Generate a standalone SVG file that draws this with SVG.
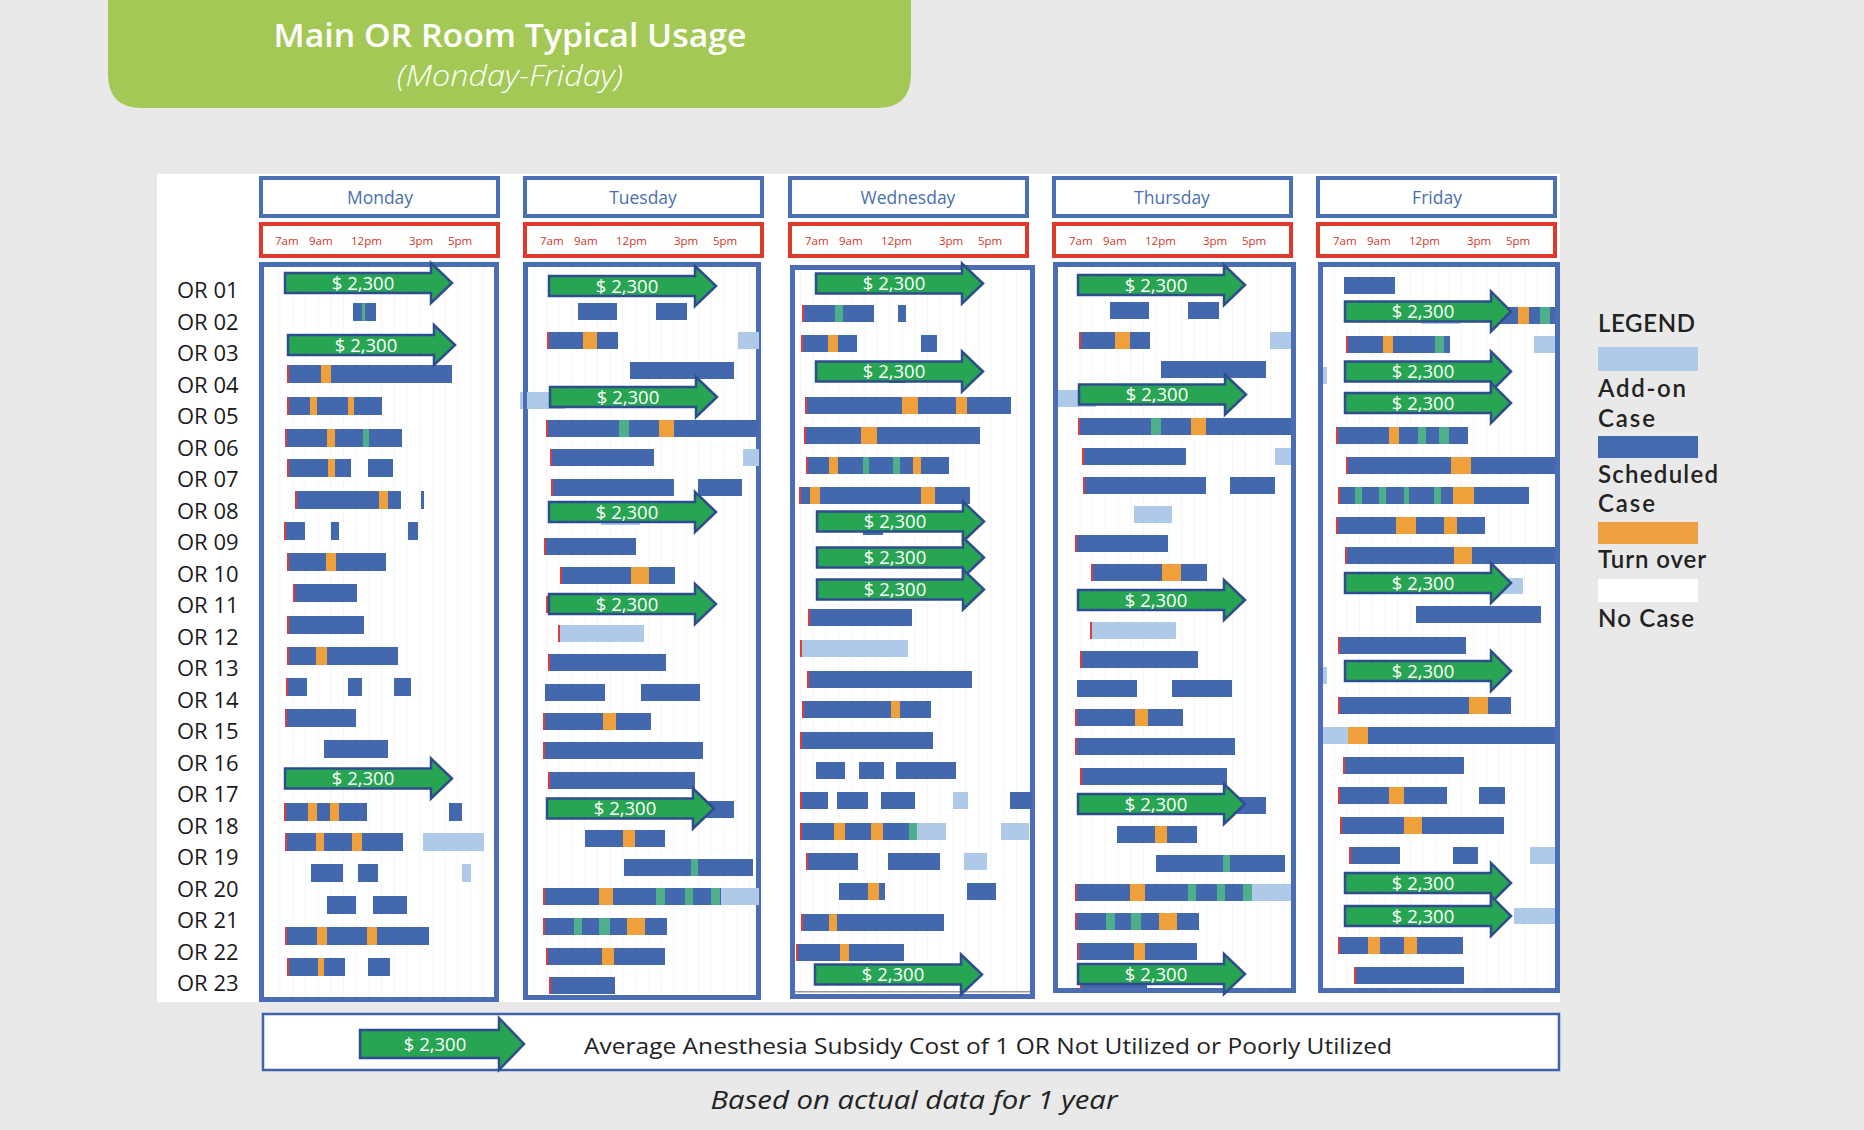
<svg xmlns="http://www.w3.org/2000/svg" width="1864" height="1130" viewBox="0 0 1864 1130">
<style>
.s{fill:#4468AE}.a{fill:#AFC9E8}.t{fill:#EFA03B}.g{fill:#4DB08A}.r{fill:#E23B3B}
.arw polygon{fill:#27A552;stroke:#2F4D8E;stroke-width:2.5;stroke-linejoin:miter}
.arw text{font-family:"Open Sans","Liberation Sans",sans-serif;font-size:18.5px;fill:#fff;text-anchor:middle}
.day{fill:#fff;stroke:#4A6FB5;stroke-width:4}
.dayt{font-family:"Open Sans","Liberation Sans",sans-serif;font-size:17.5px;fill:#4A6FB0;text-anchor:middle}
.tbox{fill:#fff;stroke:#E0392B;stroke-width:4}
.tt{font-family:"Open Sans","Liberation Sans",sans-serif;font-size:11.5px;fill:#D0352A}
.panel{fill:url(#grid);stroke:#4A6DB3;stroke-width:5}
.lbl{font-family:"Open Sans","Liberation Sans",sans-serif;font-size:22px;fill:#1a1a1a}
.leg{font-family:Lato,"Open Sans",sans-serif;font-size:24px;font-weight:600;fill:#222}
</style>
<defs>
<pattern id="grid" patternUnits="userSpaceOnUse" width="12.7" height="20" x="0" y="0">
<rect width="12.7" height="20" fill="#fff"/>
<rect x="0" y="0" width="1" height="20" fill="#f6f6f6"/>
</pattern>
</defs>
<rect width="1864" height="1130" fill="#E9E9E9"/>

<g id="title">
<path d="M108 0 H911 V74 Q911 108 877 108 H142 Q108 108 108 74 Z" fill="#A4C855"/>
<text x="510" y="47" font-family="Open Sans, Liberation Sans, sans-serif" font-size="32" font-weight="600" fill="#fff" text-anchor="middle" textLength="473" lengthAdjust="spacingAndGlyphs">Main OR Room Typical Usage</text>
<text x="510" y="86" font-family="Open Sans, Liberation Sans, sans-serif" font-size="29" font-weight="300" font-style="italic" fill="#fff" text-anchor="middle" textLength="226" lengthAdjust="spacingAndGlyphs">(Monday-Friday)</text>
</g>

<rect id="chart-bg" x="157" y="174" width="1403" height="828" fill="#fff"/>

<g id="row-labels">
<text class="lbl" x="177" y="298">OR 01</text>
<text class="lbl" x="177" y="329.5">OR 02</text>
<text class="lbl" x="177" y="361">OR 03</text>
<text class="lbl" x="177" y="392.5">OR 04</text>
<text class="lbl" x="177" y="424">OR 05</text>
<text class="lbl" x="177" y="455.5">OR 06</text>
<text class="lbl" x="177" y="487">OR 07</text>
<text class="lbl" x="177" y="518.5">OR 08</text>
<text class="lbl" x="177" y="550">OR 09</text>
<text class="lbl" x="177" y="581.5">OR 10</text>
<text class="lbl" x="177" y="613">OR 11</text>
<text class="lbl" x="177" y="644.5">OR 12</text>
<text class="lbl" x="177" y="676">OR 13</text>
<text class="lbl" x="177" y="707.5">OR 14</text>
<text class="lbl" x="177" y="739">OR 15</text>
<text class="lbl" x="177" y="770.5">OR 16</text>
<text class="lbl" x="177" y="802">OR 17</text>
<text class="lbl" x="177" y="833.5">OR 18</text>
<text class="lbl" x="177" y="865">OR 19</text>
<text class="lbl" x="177" y="896.5">OR 20</text>
<text class="lbl" x="177" y="928">OR 21</text>
<text class="lbl" x="177" y="959.5">OR 22</text>
<text class="lbl" x="177" y="991">OR 23</text>
</g>

<!-- MONDAY -->
<g id="monday">
<rect class="day" x="261" y="178" width="237" height="38"/>
<text class="dayt" x="380" y="204">Monday</text>
<rect class="tbox" x="261" y="224" width="237" height="32"/>
<text class="tt" x="275" y="245">7am</text><text class="tt" x="309" y="245">9am</text><text class="tt" x="351" y="245">12pm</text><text class="tt" x="409" y="245">3pm</text><text class="tt" x="448" y="245">5pm</text>
<rect class="panel" x="261.5" y="264.5" width="235" height="735"/>
<g>
<rect class="s" x="353" y="303" width="23" height="18"/><rect class="g" x="362" y="303" width="3" height="18"/>
<rect class="s" x="288" y="365" width="164" height="18"/><rect class="t" x="321" y="365" width="10" height="18"/><rect class="r" x="287" y="365" width="2" height="18"/>
<rect class="s" x="288" y="397" width="94" height="18"/><rect class="t" x="310" y="397" width="7" height="18"/><rect class="t" x="348" y="397" width="6" height="18"/><rect class="r" x="287" y="397" width="2" height="18"/>
<rect class="s" x="286" y="429" width="116" height="18"/><rect class="t" x="327" y="429" width="8" height="18"/><rect class="g" x="363" y="429" width="6" height="18"/><rect class="r" x="285" y="429" width="2" height="18"/>
<rect class="s" x="288" y="459" width="63" height="18"/><rect class="t" x="328" y="459" width="7" height="18"/><rect class="s" x="368" y="459" width="25" height="18"/><rect class="r" x="287" y="459" width="2" height="18"/>
<rect class="s" x="296" y="491" width="105" height="18"/><rect class="t" x="379" y="491" width="9" height="18"/><rect class="s" x="421" y="491" width="3" height="18"/><rect class="r" x="295" y="491" width="2" height="18"/>
<rect class="s" x="285" y="522" width="20" height="18"/><rect class="s" x="331" y="522" width="8" height="18"/><rect class="s" x="408" y="522" width="10" height="18"/><rect class="r" x="284" y="522" width="2" height="18"/>
<rect class="s" x="288" y="553" width="98" height="18"/><rect class="t" x="326" y="553" width="10" height="18"/><rect class="r" x="287" y="553" width="2" height="18"/>
<rect class="s" x="294" y="584" width="63" height="18"/><rect class="r" x="293" y="584" width="2" height="18"/>
<rect class="s" x="288" y="616" width="76" height="18"/><rect class="r" x="287" y="616" width="2" height="18"/>
<rect class="s" x="288" y="647" width="110" height="18"/><rect class="t" x="316" y="647" width="11" height="18"/><rect class="r" x="287" y="647" width="2" height="18"/>
<rect class="s" x="287" y="678" width="20" height="18"/><rect class="s" x="348" y="678" width="14" height="18"/><rect class="s" x="394" y="678" width="17" height="18"/><rect class="r" x="286" y="678" width="2" height="18"/>
<rect class="s" x="286" y="709" width="70" height="18"/><rect class="r" x="285" y="709" width="2" height="18"/>
<rect class="s" x="324" y="740" width="64" height="18"/>
<rect class="s" x="285" y="803" width="82" height="18"/><rect class="t" x="308" y="803" width="9" height="18"/><rect class="t" x="330" y="803" width="9" height="18"/><rect class="s" x="449" y="803" width="13" height="18"/><rect class="r" x="284" y="803" width="2" height="18"/>
<rect class="s" x="286" y="833" width="117" height="18"/><rect class="t" x="316" y="833" width="8" height="18"/><rect class="t" x="352" y="833" width="10" height="18"/><rect class="a" x="423" y="833" width="61" height="18"/><rect class="r" x="285" y="833" width="2" height="18"/>
<rect class="s" x="311" y="864" width="32" height="18"/><rect class="s" x="358" y="864" width="20" height="18"/><rect class="a" x="462" y="864" width="9" height="18"/>
<rect class="s" x="327" y="896" width="29" height="18"/><rect class="s" x="373" y="896" width="34" height="18"/>
<rect class="s" x="286" y="927" width="143" height="18"/><rect class="t" x="317" y="927" width="10" height="18"/><rect class="t" x="367" y="927" width="10" height="18"/><rect class="r" x="285" y="927" width="2" height="18"/>
<rect class="s" x="288" y="958" width="57" height="18"/><rect class="t" x="318" y="958" width="6" height="18"/><rect class="s" x="368" y="958" width="22" height="18"/><rect class="r" x="287" y="958" width="2" height="18"/>
</g>
<g class="arw" transform="translate(285,283)"><polygon points="0,-10 146,-10 146,-20 167,0 146,20 146,10 0,10"/><text x="78" y="6.5">$ 2,300</text></g>
<g class="arw" transform="translate(288,345)"><polygon points="0,-10 146,-10 146,-20 167,0 146,20 146,10 0,10"/><text x="78" y="6.5">$ 2,300</text></g>
<g class="arw" transform="translate(285,778.5)"><polygon points="0,-10 146,-10 146,-20 167,0 146,20 146,10 0,10"/><text x="78" y="6.5">$ 2,300</text></g>
</g>

<!-- TUESDAY -->
<g id="tuesday">
<rect class="day" x="525" y="178" width="237" height="38"/>
<text class="dayt" x="643" y="204">Tuesday</text>
<rect class="tbox" x="525" y="224" width="237" height="32"/>
<text class="tt" x="540" y="245">7am</text><text class="tt" x="574" y="245">9am</text><text class="tt" x="616" y="245">12pm</text><text class="tt" x="674" y="245">3pm</text><text class="tt" x="713" y="245">5pm</text>
<rect class="a" x="520" y="392" width="45" height="17"/>
<rect class="panel" x="525.5" y="264.5" width="233" height="733"/>
<g>
<rect class="a" x="527" y="392" width="38" height="17"/>
<rect class="s" x="578" y="303" width="39" height="17"/><rect class="s" x="656" y="303" width="31" height="17"/>
<rect class="s" x="548" y="332" width="70" height="17"/><rect class="t" x="583" y="332" width="14" height="17"/><rect class="a" x="738" y="332" width="21" height="17"/><rect class="r" x="547" y="332" width="2" height="17"/>
<rect class="s" x="630" y="362" width="104" height="17"/>
<rect class="s" x="547" y="420" width="212" height="17"/><rect class="g" x="619" y="420" width="10" height="17"/><rect class="t" x="659" y="420" width="15" height="17"/><rect class="r" x="546" y="420" width="2" height="17"/>
<rect class="s" x="551" y="449" width="103" height="17"/><rect class="a" x="743" y="449" width="16" height="17"/><rect class="r" x="550" y="449" width="2" height="17"/>
<rect class="s" x="552" y="479" width="122" height="17"/><rect class="s" x="698" y="479" width="44" height="17"/><rect class="r" x="551" y="479" width="2" height="17"/>
<rect class="a" x="601" y="508" width="39" height="17"/>
<rect class="s" x="545" y="538" width="91" height="17"/><rect class="r" x="544" y="538" width="2" height="17"/>
<rect class="s" x="561" y="567" width="114" height="17"/><rect class="t" x="631" y="567" width="18" height="17"/><rect class="r" x="560" y="567" width="2" height="17"/>
<rect class="s" x="547" y="596" width="60" height="17"/><rect class="r" x="546" y="596" width="2" height="17"/>
<rect class="a" x="559" y="625" width="85" height="17"/><rect class="r" x="558" y="625" width="2" height="17"/>
<rect class="s" x="549" y="654" width="117" height="17"/><rect class="r" x="548" y="654" width="2" height="17"/>
<rect class="s" x="545" y="684" width="60" height="17"/><rect class="s" x="641" y="684" width="59" height="17"/>
<rect class="s" x="544" y="713" width="107" height="17"/><rect class="t" x="603" y="713" width="13" height="17"/><rect class="r" x="543" y="713" width="2" height="17"/>
<rect class="s" x="544" y="742" width="159" height="17"/><rect class="r" x="543" y="742" width="2" height="17"/>
<rect class="s" x="549" y="772" width="146" height="17"/><rect class="r" x="548" y="772" width="2" height="17"/>
<rect class="s" x="546" y="801" width="188" height="17"/>
<rect class="s" x="585" y="830" width="80" height="17"/><rect class="t" x="623" y="830" width="12" height="17"/>
<rect class="s" x="624" y="859" width="129" height="17"/><rect class="g" x="691" y="859" width="7" height="17"/>
<rect class="s" x="544" y="888" width="177" height="17"/><rect class="a" x="721" y="888" width="38" height="17"/><rect class="t" x="599" y="888" width="14" height="17"/><rect class="g" x="656" y="888" width="9" height="17"/><rect class="g" x="685" y="888" width="8" height="17"/><rect class="g" x="711" y="888" width="9" height="17"/><rect class="r" x="543" y="888" width="2" height="17"/>
<rect class="s" x="544" y="918" width="123" height="17"/><rect class="g" x="574" y="918" width="8" height="17"/><rect class="g" x="599" y="918" width="11" height="17"/><rect class="t" x="627" y="918" width="18" height="17"/><rect class="r" x="543" y="918" width="2" height="17"/>
<rect class="s" x="547" y="948" width="118" height="17"/><rect class="t" x="602" y="948" width="12" height="17"/><rect class="r" x="546" y="948" width="2" height="17"/>
<rect class="s" x="550" y="977" width="65" height="17"/><rect class="r" x="549" y="977" width="2" height="17"/>
</g>
<g class="arw" transform="translate(549,286)"><polygon points="0,-10 146,-10 146,-20 167,0 146,20 146,10 0,10"/><text x="78" y="6.5">$ 2,300</text></g>
<g class="arw" transform="translate(550,397)"><polygon points="0,-10 146,-10 146,-20 167,0 146,20 146,10 0,10"/><text x="78" y="6.5">$ 2,300</text></g>
<g class="arw" transform="translate(549,512)"><polygon points="0,-10 146,-10 146,-20 167,0 146,20 146,10 0,10"/><text x="78" y="6.5">$ 2,300</text></g>
<g class="arw" transform="translate(549,604)"><polygon points="0,-10 146,-10 146,-20 167,0 146,20 146,10 0,10"/><text x="78" y="6.5">$ 2,300</text></g>
<g class="arw" transform="translate(547,808.5)"><polygon points="0,-10 146,-10 146,-20 167,0 146,20 146,10 0,10"/><text x="78" y="6.5">$ 2,300</text></g>
</g>

<!-- WEDNESDAY -->
<g id="wednesday">
<rect class="day" x="790" y="178" width="237" height="38"/>
<text class="dayt" x="908" y="204">Wednesday</text>
<rect class="tbox" x="790" y="224" width="237" height="32"/>
<text class="tt" x="805" y="245">7am</text><text class="tt" x="839" y="245">9am</text><text class="tt" x="881" y="245">12pm</text><text class="tt" x="939" y="245">3pm</text><text class="tt" x="978" y="245">5pm</text>
<rect class="panel" x="792.5" y="267.5" width="240" height="729"/>
<g>
<rect class="s" x="803" y="305" width="71" height="17"/><rect class="g" x="835" y="305" width="8" height="17"/><rect class="s" x="898" y="305" width="8" height="17"/><rect class="r" x="802" y="305" width="2" height="17"/>
<rect class="s" x="802" y="335" width="55" height="17"/><rect class="t" x="828" y="335" width="10" height="17"/><rect class="s" x="921" y="335" width="16" height="17"/><rect class="r" x="801" y="335" width="2" height="17"/>
<rect class="s" x="889" y="366" width="17" height="17"/>
<rect class="s" x="806" y="397" width="205" height="17"/><rect class="t" x="902" y="397" width="16" height="17"/><rect class="t" x="956" y="397" width="11" height="17"/><rect class="r" x="805" y="397" width="2" height="17"/>
<rect class="s" x="805" y="427" width="175" height="17"/><rect class="t" x="861" y="427" width="16" height="17"/><rect class="r" x="804" y="427" width="2" height="17"/>
<rect class="s" x="807" y="457" width="142" height="17"/><rect class="t" x="829" y="457" width="9" height="17"/><rect class="g" x="863" y="457" width="6" height="17"/><rect class="g" x="893" y="457" width="7" height="17"/><rect class="t" x="913" y="457" width="8" height="17"/><rect class="r" x="806" y="457" width="2" height="17"/>
<rect class="s" x="800" y="487" width="170" height="17"/><rect class="t" x="810" y="487" width="10" height="17"/><rect class="t" x="921" y="487" width="14" height="17"/><rect class="r" x="799" y="487" width="2" height="17"/>
<rect class="s" x="863" y="518" width="20" height="17"/>
<rect class="s" x="809" y="609" width="103" height="17"/><rect class="r" x="808" y="609" width="2" height="17"/>
<rect class="a" x="801" y="640" width="107" height="17"/><rect class="r" x="800" y="640" width="2" height="17"/>
<rect class="s" x="808" y="671" width="164" height="17"/><rect class="r" x="807" y="671" width="2" height="17"/>
<rect class="s" x="803" y="701" width="128" height="17"/><rect class="t" x="891" y="701" width="9" height="17"/><rect class="r" x="802" y="701" width="2" height="17"/>
<rect class="s" x="801" y="732" width="132" height="17"/><rect class="r" x="800" y="732" width="2" height="17"/>
<rect class="s" x="816" y="762" width="29" height="17"/><rect class="s" x="859" y="762" width="25" height="17"/><rect class="s" x="896" y="762" width="60" height="17"/>
<rect class="s" x="801" y="792" width="27" height="17"/><rect class="s" x="837" y="792" width="31" height="17"/><rect class="s" x="881" y="792" width="34" height="17"/><rect class="a" x="953" y="792" width="15" height="17"/><rect class="s" x="1010" y="792" width="22" height="17"/><rect class="r" x="800" y="792" width="2" height="17"/>
<rect class="s" x="801" y="823" width="108" height="17"/><rect class="t" x="834" y="823" width="11" height="17"/><rect class="t" x="871" y="823" width="12" height="17"/><rect class="g" x="909" y="823" width="8" height="17"/><rect class="a" x="917" y="823" width="29" height="17"/><rect class="a" x="1001" y="823" width="28" height="17"/><rect class="r" x="800" y="823" width="2" height="17"/>
<rect class="s" x="807" y="853" width="51" height="17"/><rect class="s" x="888" y="853" width="52" height="17"/><rect class="a" x="964" y="853" width="23" height="17"/><rect class="r" x="806" y="853" width="2" height="17"/>
<rect class="s" x="839" y="883" width="46" height="17"/><rect class="t" x="868" y="883" width="11" height="17"/><rect class="s" x="967" y="883" width="29" height="17"/>
<rect class="s" x="802" y="914" width="142" height="17"/><rect class="t" x="829" y="914" width="8" height="17"/><rect class="r" x="801" y="914" width="2" height="17"/>
<rect class="s" x="797" y="944" width="107" height="17"/><rect class="t" x="840" y="944" width="9" height="17"/><rect class="r" x="796" y="944" width="2" height="17"/>
<rect x="795" y="991" width="235" height="1.5" fill="#9a9a9a"/>
</g>
<g class="arw" transform="translate(816,283.5)"><polygon points="0,-10 146,-10 146,-20 167,0 146,20 146,10 0,10"/><text x="78" y="6.5">$ 2,300</text></g>
<g class="arw" transform="translate(816,371.5)"><polygon points="0,-10 146,-10 146,-20 167,0 146,20 146,10 0,10"/><text x="78" y="6.5">$ 2,300</text></g>
<g class="arw" transform="translate(817,521.5)"><polygon points="0,-10 146,-10 146,-20 167,0 146,20 146,10 0,10"/><text x="78" y="6.5">$ 2,300</text></g>
<g class="arw" transform="translate(817,557.5)"><polygon points="0,-10 146,-10 146,-20 167,0 146,20 146,10 0,10"/><text x="78" y="6.5">$ 2,300</text></g>
<g class="arw" transform="translate(817,589.5)"><polygon points="0,-10 146,-10 146,-20 167,0 146,20 146,10 0,10"/><text x="78" y="6.5">$ 2,300</text></g>
<g class="arw" transform="translate(815,974.5)"><polygon points="0,-10 146,-10 146,-20 167,0 146,20 146,10 0,10"/><text x="78" y="6.5">$ 2,300</text></g>
</g>

<!-- THURSDAY -->
<g id="thursday">
<rect class="day" x="1054" y="178" width="237" height="38"/>
<text class="dayt" x="1172" y="204">Thursday</text>
<rect class="tbox" x="1054" y="224" width="237" height="32"/>
<text class="tt" x="1069" y="245">7am</text><text class="tt" x="1103" y="245">9am</text><text class="tt" x="1145" y="245">12pm</text><text class="tt" x="1203" y="245">3pm</text><text class="tt" x="1242" y="245">5pm</text>
<rect class="panel" x="1055.5" y="264.5" width="238" height="726"/>
<g>
<rect class="a" x="1058" y="390" width="38" height="17"/>
<rect class="s" x="1110" y="302" width="39" height="17"/><rect class="s" x="1188" y="302" width="31" height="17"/>
<rect class="s" x="1080" y="332" width="70" height="17"/><rect class="t" x="1115" y="332" width="15" height="17"/><rect class="a" x="1270" y="332" width="21" height="17"/><rect class="r" x="1079" y="332" width="2" height="17"/>
<rect class="s" x="1161" y="361" width="105" height="17"/>
<rect class="s" x="1079" y="418" width="212" height="17"/><rect class="g" x="1151" y="418" width="10" height="17"/><rect class="t" x="1191" y="418" width="15" height="17"/><rect class="r" x="1078" y="418" width="2" height="17"/>
<rect class="s" x="1083" y="448" width="103" height="17"/><rect class="a" x="1275" y="448" width="16" height="17"/><rect class="r" x="1082" y="448" width="2" height="17"/>
<rect class="s" x="1084" y="477" width="122" height="17"/><rect class="s" x="1230" y="477" width="45" height="17"/><rect class="r" x="1083" y="477" width="2" height="17"/>
<rect class="a" x="1134" y="506" width="38" height="17"/>
<rect class="s" x="1076" y="535" width="92" height="17"/><rect class="r" x="1075" y="535" width="2" height="17"/>
<rect class="s" x="1092" y="564" width="115" height="17"/><rect class="t" x="1162" y="564" width="19" height="17"/><rect class="r" x="1091" y="564" width="2" height="17"/>
<rect class="a" x="1091" y="622" width="85" height="17"/><rect class="r" x="1090" y="622" width="2" height="17"/>
<rect class="s" x="1081" y="651" width="117" height="17"/><rect class="r" x="1080" y="651" width="2" height="17"/>
<rect class="s" x="1077" y="680" width="60" height="17"/><rect class="s" x="1172" y="680" width="60" height="17"/>
<rect class="s" x="1076" y="709" width="107" height="17"/><rect class="t" x="1135" y="709" width="13" height="17"/><rect class="r" x="1075" y="709" width="2" height="17"/>
<rect class="s" x="1076" y="738" width="159" height="17"/><rect class="r" x="1075" y="738" width="2" height="17"/>
<rect class="s" x="1081" y="768" width="146" height="17"/><rect class="r" x="1080" y="768" width="2" height="17"/>
<rect class="s" x="1081" y="797" width="185" height="17"/>
<rect class="s" x="1117" y="826" width="80" height="17"/><rect class="t" x="1155" y="826" width="12" height="17"/>
<rect class="s" x="1156" y="855" width="129" height="17"/><rect class="g" x="1223" y="855" width="7" height="17"/>
<rect class="s" x="1076" y="884" width="176" height="17"/><rect class="a" x="1252" y="884" width="39" height="17"/><rect class="t" x="1130" y="884" width="15" height="17"/><rect class="g" x="1188" y="884" width="8" height="17"/><rect class="g" x="1217" y="884" width="8" height="17"/><rect class="g" x="1243" y="884" width="9" height="17"/><rect class="r" x="1075" y="884" width="2" height="17"/>
<rect class="s" x="1076" y="913" width="123" height="17"/><rect class="g" x="1106" y="913" width="9" height="17"/><rect class="g" x="1131" y="913" width="10" height="17"/><rect class="t" x="1159" y="913" width="18" height="17"/><rect class="r" x="1075" y="913" width="2" height="17"/>
<rect class="s" x="1078" y="943" width="119" height="17"/><rect class="t" x="1134" y="943" width="11" height="17"/><rect class="r" x="1077" y="943" width="2" height="17"/>
<rect class="s" x="1081" y="971" width="66" height="17"/><rect class="r" x="1080" y="971" width="2" height="17"/>
</g>
<g class="arw" transform="translate(1078,285)"><polygon points="0,-10 146,-10 146,-20 167,0 146,20 146,10 0,10"/><text x="78" y="6.5">$ 2,300</text></g>
<g class="arw" transform="translate(1079,394.5)"><polygon points="0,-10 146,-10 146,-20 167,0 146,20 146,10 0,10"/><text x="78" y="6.5">$ 2,300</text></g>
<g class="arw" transform="translate(1078,600)"><polygon points="0,-10 146,-10 146,-20 167,0 146,20 146,10 0,10"/><text x="78" y="6.5">$ 2,300</text></g>
<g class="arw" transform="translate(1078,804)"><polygon points="0,-10 146,-10 146,-20 167,0 146,20 146,10 0,10"/><text x="78" y="6.5">$ 2,300</text></g>
<g class="arw" transform="translate(1078,974)"><polygon points="0,-10 146,-10 146,-20 167,0 146,20 146,10 0,10"/><text x="78" y="6.5">$ 2,300</text></g>
</g>

<!-- FRIDAY -->
<g id="friday">
<rect class="day" x="1318" y="178" width="237" height="38"/>
<text class="dayt" x="1437" y="204">Friday</text>
<rect class="tbox" x="1318" y="224" width="237" height="32"/>
<text class="tt" x="1333" y="245">7am</text><text class="tt" x="1367" y="245">9am</text><text class="tt" x="1409" y="245">12pm</text><text class="tt" x="1467" y="245">3pm</text><text class="tt" x="1506" y="245">5pm</text>
<rect class="panel" x="1320.5" y="264.5" width="237" height="726"/>
<g>
<rect class="s" x="1344" y="277" width="51" height="17"/>
<rect class="a" x="1421" y="307" width="39" height="17"/><rect class="s" x="1500" y="307" width="55" height="17"/><rect class="t" x="1518" y="307" width="11" height="17"/><rect class="g" x="1540" y="307" width="10" height="17"/>
<rect class="s" x="1347" y="336" width="103" height="17"/><rect class="t" x="1383" y="336" width="10" height="17"/><rect class="g" x="1435" y="336" width="9" height="17"/><rect class="a" x="1534" y="336" width="21" height="17"/><rect class="r" x="1346" y="336" width="2" height="17"/>
<rect class="a" x="1323" y="367" width="4" height="17"/>
<rect class="s" x="1337" y="427" width="131" height="17"/><rect class="t" x="1389" y="427" width="10" height="17"/><rect class="g" x="1418" y="427" width="8" height="17"/><rect class="g" x="1439" y="427" width="10" height="17"/><rect class="r" x="1336" y="427" width="2" height="17"/>
<rect class="s" x="1347" y="457" width="208" height="17"/><rect class="t" x="1451" y="457" width="20" height="17"/><rect class="r" x="1346" y="457" width="2" height="17"/>
<rect class="s" x="1339" y="487" width="190" height="17"/><rect class="g" x="1355" y="487" width="7" height="17"/><rect class="g" x="1379" y="487" width="7" height="17"/><rect class="g" x="1404" y="487" width="5" height="17"/><rect class="g" x="1434" y="487" width="7" height="17"/><rect class="t" x="1453" y="487" width="21" height="17"/><rect class="r" x="1338" y="487" width="2" height="17"/>
<rect class="s" x="1337" y="517" width="148" height="17"/><rect class="t" x="1396" y="517" width="20" height="17"/><rect class="t" x="1444" y="517" width="13" height="17"/><rect class="r" x="1336" y="517" width="2" height="17"/>
<rect class="s" x="1346" y="547" width="209" height="17"/><rect class="t" x="1454" y="547" width="18" height="17"/><rect class="r" x="1345" y="547" width="2" height="17"/>
<rect class="a" x="1500" y="578" width="23" height="16"/>
<rect class="s" x="1416" y="606" width="125" height="17"/>
<rect class="s" x="1339" y="637" width="127" height="17"/><rect class="r" x="1338" y="637" width="2" height="17"/>
<rect class="a" x="1323" y="667" width="4" height="17"/>
<rect class="s" x="1339" y="697" width="172" height="17"/><rect class="t" x="1469" y="697" width="19" height="17"/><rect class="r" x="1338" y="697" width="2" height="17"/>
<rect class="a" x="1323" y="727" width="25" height="17"/><rect class="t" x="1348" y="727" width="20" height="17"/><rect class="s" x="1368" y="727" width="187" height="17"/>
<rect class="s" x="1344" y="757" width="120" height="17"/><rect class="r" x="1343" y="757" width="2" height="17"/>
<rect class="s" x="1339" y="787" width="108" height="17"/><rect class="t" x="1389" y="787" width="15" height="17"/><rect class="s" x="1479" y="787" width="26" height="17"/><rect class="r" x="1338" y="787" width="2" height="17"/>
<rect class="s" x="1341" y="817" width="163" height="17"/><rect class="t" x="1404" y="817" width="18" height="17"/><rect class="r" x="1340" y="817" width="2" height="17"/>
<rect class="s" x="1350" y="847" width="50" height="17"/><rect class="s" x="1453" y="847" width="25" height="17"/><rect class="a" x="1530" y="847" width="25" height="17"/><rect class="r" x="1349" y="847" width="2" height="17"/>
<rect class="a" x="1514" y="908" width="41" height="16"/>
<rect class="s" x="1339" y="937" width="124" height="17"/><rect class="t" x="1368" y="937" width="12" height="17"/><rect class="t" x="1404" y="937" width="13" height="17"/><rect class="r" x="1338" y="937" width="2" height="17"/>
<rect class="s" x="1355" y="967" width="109" height="17"/><rect class="r" x="1354" y="967" width="2" height="17"/>
</g>
<g class="arw" transform="translate(1345,311.5)"><polygon points="0,-10 146,-10 146,-20 166,0 146,20 146,10 0,10"/><text x="78" y="6.5">$ 2,300</text></g>
<g class="arw" transform="translate(1345,371.5)"><polygon points="0,-10 146,-10 146,-20 166,0 146,20 146,10 0,10"/><text x="78" y="6.5">$ 2,300</text></g>
<g class="arw" transform="translate(1345,403)"><polygon points="0,-10 146,-10 146,-20 166,0 146,20 146,10 0,10"/><text x="78" y="6.5">$ 2,300</text></g>
<g class="arw" transform="translate(1345,583)"><polygon points="0,-10 146,-10 146,-20 166,0 146,20 146,10 0,10"/><text x="78" y="6.5">$ 2,300</text></g>
<g class="arw" transform="translate(1345,671)"><polygon points="0,-10 146,-10 146,-20 166,0 146,20 146,10 0,10"/><text x="78" y="6.5">$ 2,300</text></g>
<g class="arw" transform="translate(1345,883)"><polygon points="0,-10 146,-10 146,-20 166,0 146,20 146,10 0,10"/><text x="78" y="6.5">$ 2,300</text></g>
<g class="arw" transform="translate(1345,916)"><polygon points="0,-10 146,-10 146,-20 166,0 146,20 146,10 0,10"/><text x="78" y="6.5">$ 2,300</text></g>
</g>

<g id="legend">
<text class="leg" x="1598" y="332" textLength="97" lengthAdjust="spacing">LEGEND</text>
<rect x="1598" y="347" width="100" height="24" fill="#AFC9E8"/>
<text class="leg" x="1598" y="397" textLength="88" lengthAdjust="spacing">Add-on</text>
<text class="leg" x="1598" y="426.5" textLength="57" lengthAdjust="spacing">Case</text>
<rect x="1598" y="436" width="100" height="22" fill="#4369AF"/>
<text class="leg" x="1598" y="482.5" textLength="120" lengthAdjust="spacing">Scheduled</text>
<text class="leg" x="1598" y="512" textLength="57" lengthAdjust="spacing">Case</text>
<rect x="1598" y="522" width="100" height="22" fill="#EEA040"/>
<text class="leg" x="1598" y="568" textLength="108" lengthAdjust="spacing">Turn over</text>
<rect x="1598" y="579" width="100" height="23" fill="#fff"/>
<text class="leg" x="1598" y="627" textLength="96" lengthAdjust="spacing">No Case</text>
</g>

<g id="footer-key">
<rect x="263" y="1014" width="1296" height="56" fill="#fff" stroke="#3F62A8" stroke-width="2.5"/>
<g class="arw" transform="translate(360,1044)"><polygon points="0,-14 139,-14 139,-26 164,0 139,26 139,14 0,14"/><text x="75" y="6.5">$ 2,300</text></g>
<text x="988" y="1054" font-family="Open Sans, Liberation Sans, sans-serif" font-size="22" fill="#222" text-anchor="middle" textLength="808" lengthAdjust="spacingAndGlyphs">Average Anesthesia Subsidy Cost of 1 OR Not Utilized or Poorly Utilized</text>
</g>

<text id="note" x="914" y="1109" font-family="Open Sans, Liberation Sans, sans-serif" font-size="25" font-style="italic" fill="#222" text-anchor="middle" textLength="407" lengthAdjust="spacingAndGlyphs">Based on actual data for 1 year</text>

<g id="connectors"/>
</svg>
